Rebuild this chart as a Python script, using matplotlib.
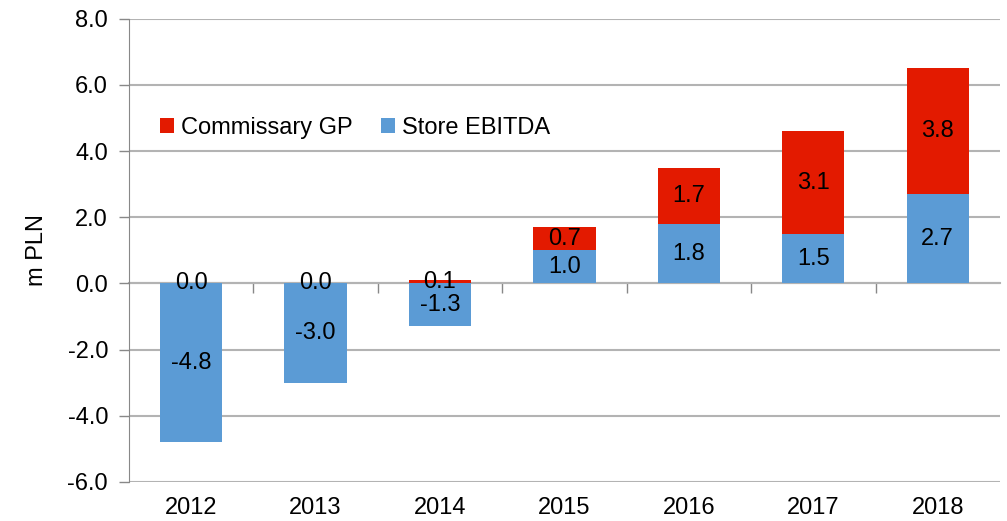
import matplotlib
matplotlib.use("Agg")
import matplotlib.pyplot as plt

plt.rcParams['font.family'] = ['Liberation Sans', 'DejaVu Sans']

years = ['2012', '2013', '2014', '2015', '2016', '2017', '2018']
store_ebitda = [-4.8, -3.0, -1.3, 1.0, 1.8, 1.5, 2.7]
commissary_gp = [0.0, 0.0, 0.1, 0.7, 1.7, 3.1, 3.8]

blue = '#5B9BD5'
red = '#E31A00'
grid_c = '#B3B3B3'

fig = plt.figure(figsize=(10.07, 5.21), dpi=100)
ax = fig.add_axes([0.128, 0.075, 0.865, 0.889])

x = list(range(len(years)))
bottoms = [max(v, 0) for v in store_ebitda]

b_store = ax.bar(x, store_ebitda, width=0.5, color=blue, label='Store EBITDA', zorder=3)
b_comm = ax.bar(x, commissary_gp, width=0.5, bottom=bottoms, color=red,
                label='Commissary GP', zorder=3)

ax.bar_label(b_store, labels=[f'{v:.1f}' for v in store_ebitda], label_type='center', fontsize=17)
ax.bar_label(b_comm, labels=[f'{v:.1f}' for v in commissary_gp], label_type='center', fontsize=17)

ax.set_xlim(-0.5, len(years) - 0.5)
ax.set_ylim(-6, 8)
ax.set_yticks(range(-6, 9, 2))
ax.set_yticklabels([f'{v:.1f}' for v in range(-6, 9, 2)], fontsize=17)
ax.set_ylabel('m PLN', fontsize=17, labelpad=14)
ax.yaxis.grid(True, color=grid_c, linewidth=1.5, zorder=0)
ax.tick_params(axis='y', length=7, color='#888888', width=1, pad=8)

ax.set_xticks(x)
ax.set_xticklabels(years, fontsize=17)
ax.tick_params(axis='x', length=0, pad=11)

for s in ['top', 'right', 'bottom']:
    ax.spines[s].set_visible(False)
ax.spines['left'].set_color('#888888')

# category axis crossing at zero
sec = ax.secondary_xaxis(6 / 14)
sec.set_xticks([i + 0.5 for i in range(len(years) - 1)])
sec.set_xticklabels([])
sec.tick_params(direction='out', length=7, color='#888888', width=1)
sec.spines['bottom'].set_color(grid_c)
sec.spines['bottom'].set_linewidth(1.5)

handles, labels = ax.get_legend_handles_labels()
ax.legend(handles[::-1], labels[::-1], ncol=2, loc='center left', bbox_to_anchor=(0.011, 0.765),
          frameon=False, fontsize=17, handlelength=0.6, handleheight=0.6,
          handletextpad=0.3, columnspacing=1.2)

fig.savefig('out.png', dpi=100)
